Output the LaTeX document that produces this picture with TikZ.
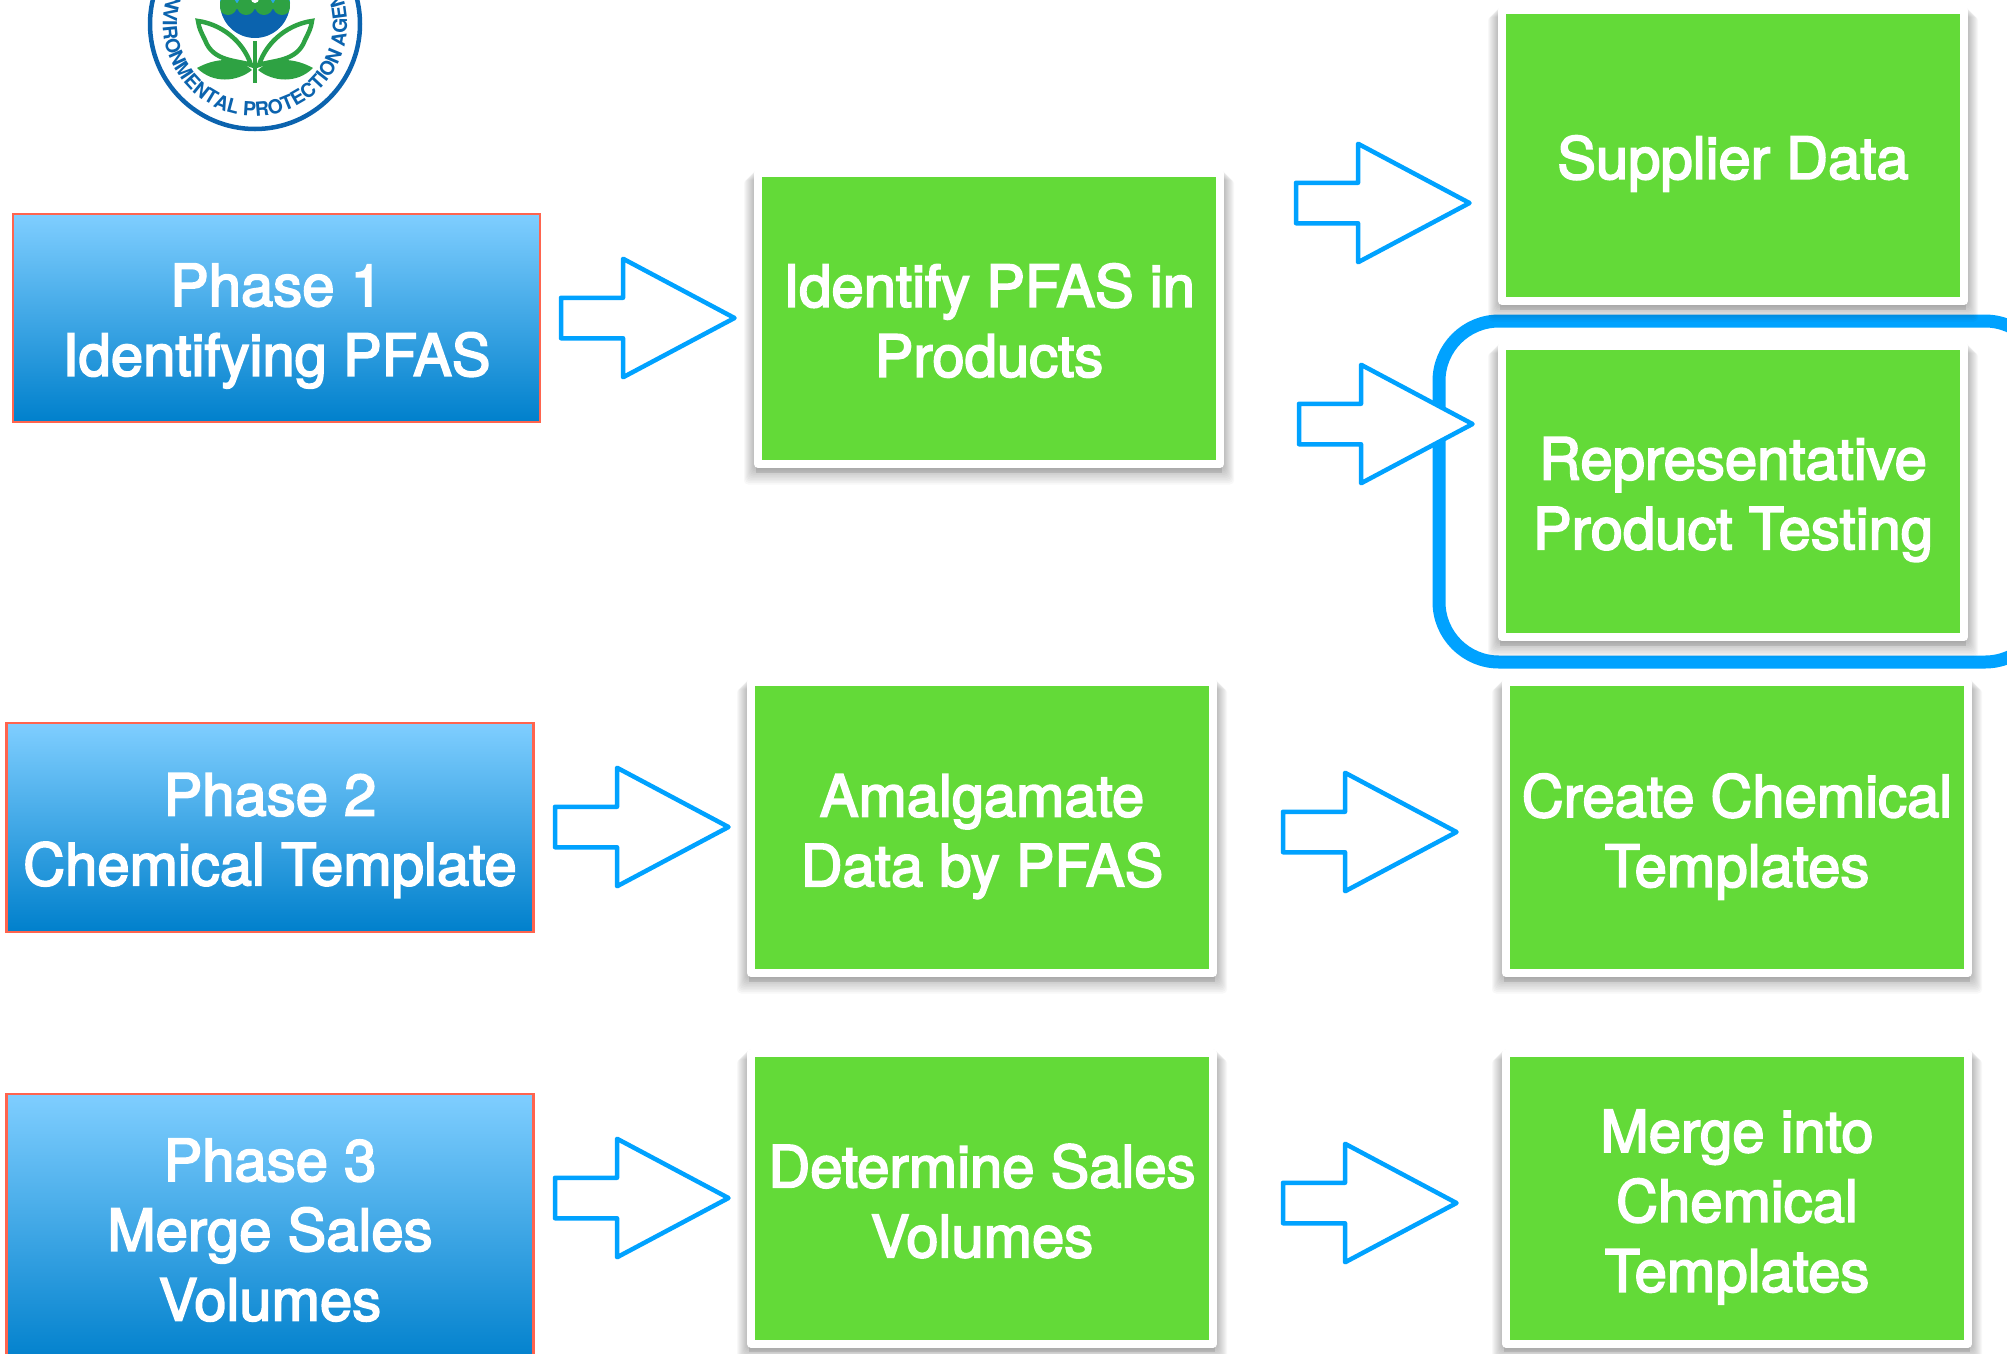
\documentclass[tikz,border=0pt]{standalone}
\usepackage{fontspec}
\setmainfont{TeX Gyre Heros}
\newfontfamily\heavyfont{TeX Gyre Heros}[FakeBold=3]
\usetikzlibrary{shapes.arrows,decorations.text}
\definecolor{boxgreen}{HTML}{63DA38}
\definecolor{arrowblue}{HTML}{00A2FF}
\definecolor{edgered}{HTML}{FF644E}
\definecolor{gradtop}{HTML}{7FCEFF}
\definecolor{gradbot}{HTML}{0080CC}
\definecolor{epablue}{HTML}{0B63AE}
\definecolor{epagreen}{HTML}{2EA243}
\definecolor{epacyan}{HTML}{2CA9E1}
\tikzset{
  bigtext/.style={text=white,align=center,inner sep=0pt,font=\heavyfont\fontsize{58}{69.8}\selectfont},
  phasebox/.style={draw=edgered,line width=2.5pt,top color=gradtop,bottom color=gradbot,
    minimum width=527pt,inner sep=0pt},
  greenbox/.style={draw=white,line width=8pt,fill=boxgreen,line join=round,
    minimum width=462pt,minimum height=291pt,inner sep=0pt},
  blockarrow/.style={shape=single arrow,draw=arrowblue,fill=white,line width=4.5pt,line join=round,
    minimum height=173.5pt,single arrow head extend=39pt,
    single arrow tip angle=56,single arrow head indent=0pt,inner xsep=0pt,inner ysep=18pt,
    anchor=tail,outer sep=0pt},
  ringline/.style={draw=arrowblue,line width=13pt,rounded corners=60pt},
  softshadow/.style={fill=black,fill opacity=0.028}
}
% name, centre x, centre y, text, text offset
\newcommand{\softbox}[5]{%
  \foreach \d in {10,9,8,7,6,5,4,3,2,1,0}{
    \fill[softshadow,rounded corners=4pt] (#2-235-\d,#3-149+\d) rectangle (#2+235+\d,#3+150+1.6*\d);
  }
  \fill[black,fill opacity=0.10] (#2-233,#3+140) rectangle (#2+233,#3+154);
  \node[greenbox] (#1) at (#2,#3) {};
  \node[bigtext] (#1text) at ([yshift=-#5pt]#1.center) {#4};
}
\begin{document}
\begin{tikzpicture}[x=1pt,y=-1pt]
\useasboundingbox (0,0) rectangle (2007,1353);
% seal
\coordinate (seal) at (255,24);
\draw[epablue,line width=4.5pt] (seal) circle[radius=105];
\begin{scope}
  \clip (255,3) circle[radius=35];
  \fill[epablue] (215,-35) rectangle (295,40);
  \fill[epacyan] (215,-35) rectangle (295,3);
  \fill[epagreen] (215,3) rectangle (295,9);
  \foreach \cx in {228,246,264,282}{\fill[epagreen] (\cx,6) circle[radius=9];}
\end{scope}
\fill[white] (255,-1) circle[radius=4];
\fill[epagreen] (253,41) rectangle (257,83);
\foreach \s in {-1,1}{
  \draw[epagreen,line width=4.5pt,line join=miter]
    (255+\s*57,21) .. controls (255+\s*35,24) and (255+\s*12,40) .. (255+\s*4,65)
    .. controls (255+\s*18,60) and (255+\s*42,62) .. (255+\s*50,40)
    .. controls (255+\s*54,32) and (255+\s*56,28) .. cycle;
  \fill[epagreen] (255+\s*58,68) .. controls (255+\s*40,58) and (255+\s*18,56) .. (255+\s*3,70)
    .. controls (255+\s*18,82) and (255+\s*42,84) .. cycle;
}
\path[postaction={decorate},decoration={text along path,text align={left indent=0pt},
  text={|\fontsize{19.5}{19.5}\selectfont\bfseries\color{epablue}|ENVIRONMENTAL PROTECTION AGENCY}}]
  (seal) ++(207:92) arc[start angle=207,end angle=-45,radius=92];
% highlight ring
\draw[ringline] (2045,321) -- (1439,321) -- (1439,662) -- (2045,662) -- cycle;
% phases
\node[phasebox,minimum height=208pt] (p1) at (276.5,318) {};
\node[bigtext] (p1text) at ([yshift=-8pt]p1.center) {Phase 1\\Identifying PFAS};
\node[phasebox,minimum height=209pt] (p2) at (270,827.5) {};
\node[bigtext] (p2text) at ([yshift=-8pt]p2.center) {Phase 2\\Chemical Template};
\node[phasebox,minimum height=270pt] (p3) at (270,1229) {};
\node[bigtext] (p3text) at ([yshift=-1pt]p3.center) {Phase 3\\Merge Sales\\Volumes};
% steps
\softbox{identify}{989}{318.5}{Identify PFAS in\\Products}{2}
\softbox{supplier}{1733}{155.5}{Supplier Data}{8}
\softbox{testing}{1733}{491.5}{Representative\\Product Testing}{8}
\softbox{amalgam}{982}{827.5}{Amalgamate\\Data by PFAS}{9}
\softbox{create}{1737}{827.5}{Create Chemical\\Templates}{9}
\softbox{sales}{982}{1198}{Determine Sales\\Volumes}{3}
\softbox{merge}{1737}{1198}{Merge into\\Chemical\\Templates}{9}
% arrows
\node[blockarrow] (a1) at (561,318) {};
\node[blockarrow] (a2) at (1296,203) {};
\node[blockarrow] (a3) at (1299,424) {};
\node[blockarrow] (a4) at (555,827) {};
\node[blockarrow] (a5) at (1283,832) {};
\node[blockarrow] (a6) at (555,1198) {};
\node[blockarrow] (a7) at (1283,1203) {};
\end{tikzpicture}
\end{document}
